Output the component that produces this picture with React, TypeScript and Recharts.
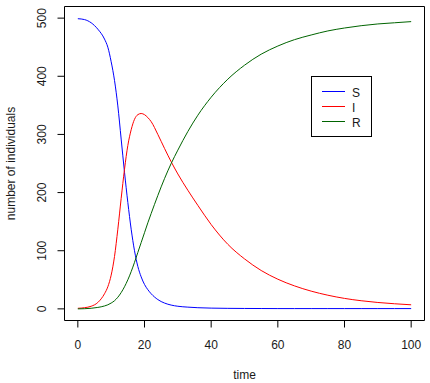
import { LineChart, Line, XAxis, YAxis, ReferenceArea, Legend, Label } from 'recharts';

// SIR model output
const time = [0, 2, 4, 6, 8, 9, 10, 11, 12, 13, 14, 15, 16, 17, 18, 19, 20, 21, 22, 24, 26, 28, 30, 33, 36, 40, 45, 50, 55, 60, 65, 70, 75, 80, 85, 90, 95, 100];
const susceptible = [499, 497.5, 492, 481, 464, 450, 425, 393, 349, 292, 235, 183, 137, 100, 73, 55, 42, 33, 26, 16, 10, 6.5, 4.5, 3, 2, 1.3, 0.9, 0.7, 0.6, 0.5, 0.5, 0.5, 0.5, 0.5, 0.5, 0.5, 0.5, 0.5];
const infected = [1, 2, 4.5, 11, 26, 38, 58, 90, 137, 190, 240, 281, 308, 326, 334, 336, 334, 329, 322, 300, 276, 253, 232, 204, 178, 145, 111, 86, 66, 51, 39.5, 30.5, 23.5, 18, 14, 11, 8.8, 7];
const recovered = [0, 0.3, 1, 2.5, 5, 7, 10, 14, 20, 28, 38, 50, 64, 80, 97, 114, 131, 148, 164, 195, 224, 250, 273, 305, 333, 364, 395, 419, 438, 452, 463, 471, 478, 483, 487, 490, 492, 494];

const seriesNames = ['S', 'I', 'R'];
const seriesColors = ['#0000ff', '#ff0000', '#006400'];
const seriesValues = [susceptible, infected, recovered];

const xTicks = [0, 20, 40, 60, 80, 100];
const yTicks = [0, 100, 200, 300, 400, 500];

const FONT = '"Liberation Sans", Arial, sans-serif';
const INK = '#1a1a1a';

const rows = time.map((t, i) => {
  const row: Record<string, number> = { t };
  seriesNames.forEach((name, k) => {
    row[name] = seriesValues[k][i];
  });
  return row;
});

function YTick({ x, y, payload }: any) {
  return (
    <text x={x} y={y} transform={`rotate(-90, ${x}, ${y})`} textAnchor="middle" fontSize={12} fontFamily={FONT} fill={INK}>
      {payload.value}
    </text>
  );
}

function LegendBox({ payload }: any) {
  const items = [...(payload ?? [])].sort(
    (a: any, b: any) => seriesNames.indexOf(a.value) - seriesNames.indexOf(b.value)
  );
  return (
    <svg width={62} height={62} style={{ display: 'block' }}>
      <rect x={0.5} y={0.5} width={60} height={60} fill="#fff" stroke="#000" />
      {items.map((p: any, i: number) => (
        <g key={p.value}>
          <line x1={11} x2={34} y1={15.5 + i * 15} y2={15.5 + i * 15} stroke={p.color} />
          <text x={41} y={20.5 + i * 15} fontSize={12} fontFamily={FONT} fill={INK}>{p.value}</text>
        </g>
      ))}
    </svg>
  );
}

export default function App() {
  return (
    <div style={{ position: 'absolute', left: 0, top: 0, background: '#fff' }}>
      <LineChart width={430} height={383} data={rows} margin={{ top: 6.5, right: 5.5, left: 0.5, bottom: 0 }}>
        <XAxis
          dataKey="t"
          type="number"
          domain={[-4, 104]}
          ticks={xTicks}
          height={62.5}
          axisLine={false}
          tickSize={7}
          tickMargin={13}
          tickLine={{ stroke: '#000' }}
          tick={{ fontSize: 12, fontFamily: FONT, fill: INK }}
        >
          <Label
            content={({ viewBox }: any) => (
              <text x={viewBox.x + viewBox.width / 2} y={viewBox.y + 58} textAnchor="middle" fontSize={12} fontFamily={FONT} fill={INK}>
                time
              </text>
            )}
          />
        </XAxis>
        <YAxis
          type="number"
          domain={[-20, 520]}
          ticks={yTicks}
          width={64}
          axisLine={false}
          tickSize={7}
          tickMargin={11.5}
          tickLine={{ stroke: '#000' }}
          tick={<YTick />}
        >
          <Label
            content={({ viewBox }: any) => {
              const cx = 15;
              const cy = viewBox.y + viewBox.height / 2;
              return (
                <text x={cx} y={cy} transform={`rotate(-90, ${cx}, ${cy})`} textAnchor="middle" fontSize={12} fontFamily={FONT} fill={INK}>
                  number of individuals
                </text>
              );
            }}
          />
        </YAxis>
        <ReferenceArea x1={-4} x2={104} y1={-20} y2={520} fill="none" stroke="#000" strokeWidth={1} fillOpacity={0} />
        {seriesNames.map((name, k) => (
          <Line
            key={name}
            dataKey={name}
            name={name}
            type="monotone"
            stroke={seriesColors[k]}
            strokeWidth={1}
            dot={false}
            isAnimationActive={false}
          />
        ))}
        <Legend
          verticalAlign="middle"
          align="center"
          content={<LegendBox />}
          wrapperStyle={{ position: 'absolute', left: 310.5, top: 75.5, width: 62, height: 62 }}
        />
      </LineChart>
    </div>
  );
}
